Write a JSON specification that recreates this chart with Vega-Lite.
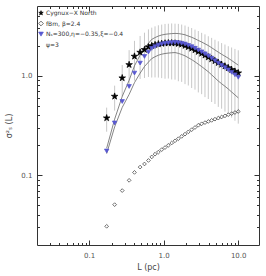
{
  "$schema": "https://vega.github.io/schema/vega-lite/v6.json",
  "width": 222,
  "height": 239,
  "autosize": "none",
  "padding": {"left": 37, "top": 6, "right": 7, "bottom": 31},
  "background": "white",
  "config": {
    "view": {"stroke": "#333333", "strokeWidth": 1},
    "font": "DejaVu Sans",
    "axis": {
      "domain": false, "grid": false,
      "labelFont": "DejaVu Sans", "labelColor": "#555555", "labelFontSize": 7,
      "tickColor": "#333333", "tickWidth": 1,
      "titleFont": "DejaVu Sans", "titleFontWeight": "normal", "titleColor": "#444444", "titleFontSize": 8,
      "labelFlush": false, "labelOverlap": false, "labelBound": false
    },
    "legend": {
      "orient": "none", "legendX": 1, "legendY": 4, "title": null,
      "labelFont": "DejaVu Sans", "labelFontSize": 6, "labelColor": "#333333",
      "rowPadding": 2.5, "padding": 0, "labelOffset": 2, "symbolStrokeWidth": 0.7, "symbolSize": 22
    }
  },
  "datasets": {
    "pts": [
      {"s": "obs", "L": 0.172, "v": 0.376}, {"s": "obs", "L": 0.220, "v": 0.620}, {"s": "obs", "L": 0.278, "v": 0.948}, {"s": "obs", "L": 0.344, "v": 1.288}, {"s": "obs", "L": 0.406, "v": 1.563},
      {"s": "obs", "L": 0.483, "v": 1.714}, {"s": "obs", "L": 0.553, "v": 1.824}, {"s": "obs", "L": 0.625, "v": 1.941}, {"s": "obs", "L": 0.692, "v": 1.995}, {"s": "obs", "L": 0.766, "v": 2.042},
      {"s": "obs", "L": 0.849, "v": 2.080}, {"s": "obs", "L": 0.941, "v": 2.099}, {"s": "obs", "L": 1.043, "v": 2.118}, {"s": "obs", "L": 1.156, "v": 2.128}, {"s": "obs", "L": 1.281, "v": 2.128},
      {"s": "obs", "L": 1.420, "v": 2.118}, {"s": "obs", "L": 1.574, "v": 2.094}, {"s": "obs", "L": 1.744, "v": 2.061}, {"s": "obs", "L": 1.933, "v": 2.004}, {"s": "obs", "L": 2.142, "v": 1.945},
      {"s": "obs", "L": 2.374, "v": 1.879}, {"s": "obs", "L": 2.631, "v": 1.811}, {"s": "obs", "L": 2.916, "v": 1.742}, {"s": "obs", "L": 3.232, "v": 1.671}, {"s": "obs", "L": 3.582, "v": 1.603},
      {"s": "obs", "L": 3.970, "v": 1.535}, {"s": "obs", "L": 4.400, "v": 1.469}, {"s": "obs", "L": 4.877, "v": 1.406}, {"s": "obs", "L": 5.405, "v": 1.349}, {"s": "obs", "L": 5.990, "v": 1.294},
      {"s": "obs", "L": 6.639, "v": 1.245}, {"s": "obs", "L": 7.358, "v": 1.197}, {"s": "obs", "L": 8.155, "v": 1.148}, {"s": "obs", "L": 9.038, "v": 1.104}, {"s": "obs", "L": 10.017, "v": 1.064},
      {"s": "fbm", "L": 0.172, "v": 0.0308}, {"s": "fbm", "L": 0.220, "v": 0.0508}, {"s": "fbm", "L": 0.278, "v": 0.0703}, {"s": "fbm", "L": 0.344, "v": 0.0891}, {"s": "fbm", "L": 0.406, "v": 0.107},
      {"s": "fbm", "L": 0.483, "v": 0.121}, {"s": "fbm", "L": 0.553, "v": 0.130}, {"s": "fbm", "L": 0.625, "v": 0.141}, {"s": "fbm", "L": 0.692, "v": 0.153}, {"s": "fbm", "L": 0.766, "v": 0.163},
      {"s": "fbm", "L": 0.849, "v": 0.171}, {"s": "fbm", "L": 0.941, "v": 0.181}, {"s": "fbm", "L": 1.043, "v": 0.190}, {"s": "fbm", "L": 1.156, "v": 0.200}, {"s": "fbm", "L": 1.281, "v": 0.211},
      {"s": "fbm", "L": 1.420, "v": 0.222}, {"s": "fbm", "L": 1.574, "v": 0.233}, {"s": "fbm", "L": 1.744, "v": 0.246}, {"s": "fbm", "L": 1.933, "v": 0.259}, {"s": "fbm", "L": 2.142, "v": 0.273},
      {"s": "fbm", "L": 2.374, "v": 0.287}, {"s": "fbm", "L": 2.631, "v": 0.302}, {"s": "fbm", "L": 2.916, "v": 0.318}, {"s": "fbm", "L": 3.232, "v": 0.329}, {"s": "fbm", "L": 3.582, "v": 0.338},
      {"s": "fbm", "L": 3.970, "v": 0.347}, {"s": "fbm", "L": 4.400, "v": 0.356}, {"s": "fbm", "L": 4.877, "v": 0.366}, {"s": "fbm", "L": 5.405, "v": 0.375}, {"s": "fbm", "L": 5.990, "v": 0.385},
      {"s": "fbm", "L": 6.639, "v": 0.395}, {"s": "fbm", "L": 7.358, "v": 0.406}, {"s": "fbm", "L": 8.155, "v": 0.416}, {"s": "fbm", "L": 9.038, "v": 0.427}, {"s": "fbm", "L": 10.017, "v": 0.437},
      {"s": "mod", "L": 0.172, "v": 0.176}, {"s": "mod", "L": 0.220, "v": 0.336}, {"s": "mod", "L": 0.278, "v": 0.552}, {"s": "mod", "L": 0.344, "v": 0.781}, {"s": "mod", "L": 0.406, "v": 1.064},
      {"s": "mod", "L": 0.483, "v": 1.340}, {"s": "mod", "L": 0.553, "v": 1.563}, {"s": "mod", "L": 0.625, "v": 1.730}, {"s": "mod", "L": 0.692, "v": 1.880}, {"s": "mod", "L": 0.766, "v": 1.960},
      {"s": "mod", "L": 0.849, "v": 2.030}, {"s": "mod", "L": 0.941, "v": 2.080}, {"s": "mod", "L": 1.043, "v": 2.113}, {"s": "mod", "L": 1.156, "v": 2.133}, {"s": "mod", "L": 1.281, "v": 2.148},
      {"s": "mod", "L": 1.420, "v": 2.158}, {"s": "mod", "L": 1.574, "v": 2.148}, {"s": "mod", "L": 1.744, "v": 2.118}, {"s": "mod", "L": 1.933, "v": 2.080}, {"s": "mod", "L": 2.142, "v": 2.018},
      {"s": "mod", "L": 2.374, "v": 1.959}, {"s": "mod", "L": 2.631, "v": 1.888}, {"s": "mod", "L": 2.916, "v": 1.811}, {"s": "mod", "L": 3.232, "v": 1.738}, {"s": "mod", "L": 3.582, "v": 1.660},
      {"s": "mod", "L": 3.970, "v": 1.585}, {"s": "mod", "L": 4.400, "v": 1.500}, {"s": "mod", "L": 4.877, "v": 1.416}, {"s": "mod", "L": 5.405, "v": 1.340}, {"s": "mod", "L": 5.990, "v": 1.271},
      {"s": "mod", "L": 6.639, "v": 1.208}, {"s": "mod", "L": 7.358, "v": 1.148}, {"s": "mod", "L": 8.155, "v": 1.084}, {"s": "mod", "L": 9.038, "v": 1.023}, {"s": "mod", "L": 10.017, "v": 0.966}
    ],
    "err": [
      {"L": 0.172, "lo": 0.274, "hi": 0.478}, {"L": 0.220, "lo": 0.446, "hi": 0.794}, {"L": 0.278, "lo": 0.616, "hi": 1.280}, {"L": 0.344, "lo": 0.773, "hi": 1.803}, {"L": 0.406, "lo": 0.891, "hi": 2.235},
      {"L": 0.483, "lo": 0.926, "hi": 2.502}, {"L": 0.553, "lo": 0.948, "hi": 2.700}, {"L": 0.625, "lo": 0.970, "hi": 2.912}, {"L": 0.692, "lo": 0.958, "hi": 3.032}, {"L": 0.766, "lo": 0.960, "hi": 3.124},
      {"L": 0.849, "lo": 0.957, "hi": 3.203}, {"L": 0.941, "lo": 0.945, "hi": 3.253}, {"L": 1.043, "lo": 0.932, "hi": 3.304}, {"L": 1.156, "lo": 0.936, "hi": 3.320}, {"L": 1.281, "lo": 0.915, "hi": 3.341},
      {"L": 1.420, "lo": 0.911, "hi": 3.325}, {"L": 1.574, "lo": 0.879, "hi": 3.309}, {"L": 1.744, "lo": 0.866, "hi": 3.256}, {"L": 1.933, "lo": 0.822, "hi": 3.186}, {"L": 2.142, "lo": 0.797, "hi": 3.093},
      {"L": 2.374, "lo": 0.752, "hi": 3.006}, {"L": 2.631, "lo": 0.724, "hi": 2.898}, {"L": 2.916, "lo": 0.679, "hi": 2.805}, {"L": 3.232, "lo": 0.652, "hi": 2.690}, {"L": 3.582, "lo": 0.609, "hi": 2.597},
      {"L": 3.970, "lo": 0.583, "hi": 2.487}, {"L": 4.400, "lo": 0.544, "hi": 2.394}, {"L": 4.877, "lo": 0.520, "hi": 2.292}, {"L": 5.405, "lo": 0.486, "hi": 2.212}, {"L": 5.990, "lo": 0.466, "hi": 2.122},
      {"L": 6.639, "lo": 0.436, "hi": 2.054}, {"L": 7.358, "lo": 0.419, "hi": 1.975}, {"L": 8.155, "lo": 0.379, "hi": 1.917}, {"L": 9.038, "lo": 0.353, "hi": 1.855}, {"L": 10.017, "lo": 0.330, "hi": 1.798}
    ],
    "env": [
      {"L": 0.172, "up": 0.187, "dn": 0.165}, {"L": 0.220, "up": 0.366, "dn": 0.306}, {"L": 0.278, "up": 0.618, "dn": 0.480}, {"L": 0.344, "up": 0.898, "dn": 0.648}, {"L": 0.406, "up": 1.256, "dn": 0.851},
      {"L": 0.483, "up": 1.608, "dn": 1.059}, {"L": 0.553, "up": 1.891, "dn": 1.235}, {"L": 0.625, "up": 2.111, "dn": 1.367}, {"L": 0.692, "up": 2.312, "dn": 1.485}, {"L": 0.766, "up": 2.411, "dn": 1.548},
      {"L": 0.849, "up": 2.497, "dn": 1.604}, {"L": 0.941, "up": 2.558, "dn": 1.643}, {"L": 1.043, "up": 2.599, "dn": 1.669}, {"L": 1.156, "up": 2.624, "dn": 1.685}, {"L": 1.281, "up": 2.642, "dn": 1.697},
      {"L": 1.420, "up": 2.654, "dn": 1.705}, {"L": 1.574, "up": 2.646, "dn": 1.675}, {"L": 1.744, "up": 2.614, "dn": 1.631}, {"L": 1.933, "up": 2.571, "dn": 1.581}, {"L": 2.142, "up": 2.498, "dn": 1.514},
      {"L": 2.374, "up": 2.429, "dn": 1.450}, {"L": 2.631, "up": 2.345, "dn": 1.378}, {"L": 2.916, "up": 2.255, "dn": 1.304}, {"L": 3.232, "up": 2.176, "dn": 1.234}, {"L": 3.582, "up": 2.088, "dn": 1.162},
      {"L": 3.970, "up": 2.005, "dn": 1.094}, {"L": 4.400, "up": 1.908, "dn": 1.020}, {"L": 4.877, "up": 1.810, "dn": 0.949}, {"L": 5.405, "up": 1.722, "dn": 0.884}, {"L": 5.990, "up": 1.640, "dn": 0.830},
      {"L": 6.639, "up": 1.567, "dn": 0.782}, {"L": 7.358, "up": 1.496, "dn": 0.735}, {"L": 8.155, "up": 1.420, "dn": 0.686}, {"L": 9.038, "up": 1.345, "dn": 0.641}, {"L": 10.017, "up": 1.275, "dn": 0.599}
    ]
  },
  "layer": [
    {
      "data": {"name": "err"},
      "mark": {"type": "rule", "color": "#c8c8c8", "strokeWidth": 1},
      "encoding": {
        "x": {"field": "L", "type": "quantitative",
          "scale": {"type": "log", "domain": [0.02, 19], "nice": false},
          "axis": {"orient": "bottom", "title": "L (pc)",
            "values": [0.03,0.04,0.05,0.06,0.07,0.08,0.09,0.1,0.2,0.3,0.4,0.5,0.6,0.7,0.8,0.9,1,2,3,4,5,6,7,8,9,10],
            "labelExpr": "datum.value === 0.1 ? '0.1' : datum.value === 1 ? '1.0' : datum.value === 10 ? '10.0' : ''",
            "tickSize": {"condition": {"test": "datum.value === 0.1 || datum.value === 1 || datum.value === 10", "value": -5}, "value": -2.5},
            "labelPadding": 11, "titlePadding": 3}},
        "y": {"field": "lo", "type": "quantitative",
          "scale": {"type": "log", "domain": [0.02, 5], "nice": false},
          "axis": {"orient": "left", "title": "σ²ₛ (L)",
            "values": [0.03,0.04,0.05,0.06,0.07,0.08,0.09,0.1,0.2,0.3,0.4,0.5,0.6,0.7,0.8,0.9,1,2,3,4],
            "labelExpr": "datum.value === 0.1 ? '0.1' : datum.value === 1 ? '1.0' : ''",
            "tickSize": {"condition": {"test": "datum.value === 0.1 || datum.value === 1", "value": -5}, "value": -2.5},
            "labelPadding": 10, "titlePadding": 7}},
        "y2": {"field": "hi"}
      }
    },
    {
      "data": {"name": "env"},
      "mark": {"type": "line", "color": "#666666", "strokeWidth": 0.8},
      "encoding": {
        "x": {"field": "L", "type": "quantitative",
          "scale": {"type": "log", "domain": [0.02, 19], "nice": false},
          "axis": {"orient": "top", "title": null, "labels": false,
            "values": [0.03,0.04,0.05,0.06,0.07,0.08,0.09,0.1,0.2,0.3,0.4,0.5,0.6,0.7,0.8,0.9,1,2,3,4,5,6,7,8,9,10],
            "tickSize": {"condition": {"test": "datum.value === 0.1 || datum.value === 1 || datum.value === 10", "value": -5}, "value": -2.5}}},
        "y": {"field": "up", "type": "quantitative",
          "scale": {"type": "log", "domain": [0.02, 5], "nice": false},
          "axis": {"orient": "right", "title": null, "labels": false,
            "values": [0.03,0.04,0.05,0.06,0.07,0.08,0.09,0.1,0.2,0.3,0.4,0.5,0.6,0.7,0.8,0.9,1,2,3,4],
            "tickSize": {"condition": {"test": "datum.value === 0.1 || datum.value === 1", "value": -5}, "value": -2.5}}}
      }
    },
    {
      "data": {"name": "env"},
      "mark": {"type": "line", "color": "#666666", "strokeWidth": 0.8},
      "encoding": {
        "x": {"field": "L", "type": "quantitative", "scale": {"type": "log", "domain": [0.02, 19], "nice": false}, "axis": null},
        "y": {"field": "dn", "type": "quantitative", "scale": {"type": "log", "domain": [0.02, 5], "nice": false}, "axis": null}
      }
    },
    {
      "data": {"name": "pts"},
      "mark": {"type": "point", "strokeWidth": 0.7, "opacity": 1},
      "encoding": {
        "x": {"field": "L", "type": "quantitative", "scale": {"type": "log", "domain": [0.02, 19], "nice": false}, "axis": null},
        "y": {"field": "v", "type": "quantitative", "scale": {"type": "log", "domain": [0.02, 5], "nice": false}, "axis": null},
        "shape": {"field": "s", "type": "nominal",
          "scale": {"domain": ["obs", "fbm", "mod", "psi"],
            "range": ["M0,-1L0.225,-0.309L0.951,-0.309L0.363,0.118L0.588,0.809L0,0.382L-0.588,0.809L-0.363,0.118L-0.951,-0.309L-0.225,-0.309Z", "M0,-1L1,0L0,1L-1,0Z", "M-1,-0.8L1,-0.8L0,0.9Z", "circle"]},
          "legend": {
            "symbolSize": 22,
            "labelExpr": "datum.value === 'obs' ? 'Cygnux−X North' : datum.value === 'fbm' ? 'fBm, β=2.4' : datum.value === 'mod' ? 'Nₛ=300,η=−0.35,ξ=−0.4' : 'ψ=3'",
            "encode": {
              "labels": {"update": {"dx": {"signal": "datum.value === 'psi' ? -6 : 0"}}}
            }}},
        "fill": {"field": "s", "type": "nominal",
          "scale": {"domain": ["obs", "fbm", "mod", "psi"], "range": ["#000000", "transparent", "#5858d0", "transparent"]}},
        "stroke": {"field": "s", "type": "nominal",
          "scale": {"domain": ["obs", "fbm", "mod", "psi"], "range": ["#000000", "#333333", "#5858d0", "transparent"]}},
        "size": {"condition": [{"test": "datum.s === 'obs'", "value": 48}, {"test": "datum.s === 'mod'", "value": 20}], "value": 14}
      }
    }
  ],
  "resolve": {"axis": {"x": "independent", "y": "independent"}}
}
